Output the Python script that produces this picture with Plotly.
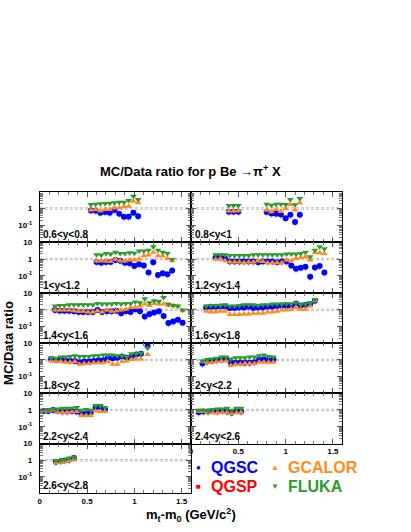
import plotly.graph_objects as go

# ---- data (MC/Data ratio vs mt-m0) ----
labels = ["0.6<y<0.8", "0.8<y<1", "1<y<1.2", "1.2<y<1.4", "1.4<y<1.6", "1.6<y<1.8",
          "1.8<y<2", "2<y<2.2", "2.2<y<2.4", "2.4<y<2.6", "2.6<y<2.8"]

x_06 = [0.54, 0.59, 0.64, 0.69, 0.74, 0.79, 0.84, 0.89, 0.94, 0.99, 1.04]
qgsc_06 = [0.76, 0.73, 0.56, 0.61, 0.56, 0.80, 0.49, 0.32, 0.32, 0.56, 0.35]
gcalor_06 = [0.80, 0.87, 0.73, 0.87, 0.87, 1.09, 1.09, 1.25, 1.37, 2.70, 2.16]
fluka_06 = [1.72, 1.80, 1.88, 1.97, 2.06, 2.16, 2.36, 2.36, 2.96, 5.31, 3.38]

x_08 = [0.40, 0.45, 0.50, 0.80, 0.85, 0.90, 0.95, 1.00, 1.05, 1.10, 1.15]
qgsc_08 = [0.64, 0.64, 0.64, 0.61, 0.51, 0.49, 0.44, 0.26, 0.42, 0.16, 0.42]
gcalor_08 = [0.70, 0.70, 0.73, 0.80, 0.64, 0.87, 0.67, 0.96, 1.72, 0.80, 2.16]
fluka_08 = [1.50, 1.50, 1.50, 1.80, 1.57, 1.80, 1.80, 1.72, 3.38, 1.64, 3.87]

x_10 = [0.60, 0.65, 0.70, 0.75, 0.80, 0.85, 0.90, 0.95, 1.00, 1.05, 1.10, 1.15, 1.20,
        1.25, 1.30, 1.35, 1.40]
qgsc_10 = [0.67, 0.61, 0.67, 0.67, 0.87, 0.80, 0.61, 0.56, 0.39, 0.49, 0.42, 0.16, 0.64,
           0.115, 0.144, 0.125, 0.21]
gcalor_10 = [0.76, 0.80, 0.76, 0.73, 0.96, 0.80, 0.76, 0.87, 0.87, 1.00, 1.57, 1.72, 2.58,
             1.57, 1.57, 1.09, 0.80]
fluka_10 = [1.80, 1.72, 2.16, 1.97, 2.58, 2.16, 2.16, 2.36, 2.25, 2.96, 2.96, 3.38, 5.31,
            3.38, 2.58, 2.16, 0.93]

x_12 = [0.26, 0.31, 0.36, 0.41, 0.46, 0.51, 0.56, 0.61, 0.66, 0.71, 0.76, 0.81, 0.86,
        0.91, 0.96, 1.01, 1.06, 1.11, 1.16, 1.21, 1.26, 1.31, 1.36, 1.41]
qgsc_12 = [1.25, 1.25, 1.09, 0.73, 0.73, 0.73, 0.73, 0.73, 0.73, 0.64, 0.73, 0.73, 0.73,
           0.64, 0.73, 0.73, 0.41, 0.27, 0.31, 0.35, 0.09, 0.32, 0.39, 0.16]
gcalor_12 = [0.96, 1.05, 0.80, 0.67, 0.67, 0.67, 0.61, 0.67, 0.67, 0.80, 0.73, 0.61, 0.61,
             0.61, 0.61, 0.87, 0.80, 1.09, 1.25, 1.37, 0.87, 2.36, 2.36, 2.16]
fluka_12 = [1.80, 1.80, 1.80, 1.64, 1.64, 1.64, 1.64, 1.64, 1.80, 1.80, 1.80, 1.80, 1.80,
            1.80, 1.80, 1.97, 1.97, 1.97, 2.16, 2.58, 1.37, 3.38, 5.31, 4.05]

x_14 = [0.16, 0.21, 0.26, 0.31, 0.36, 0.41, 0.46, 0.51, 0.56, 0.61, 0.66, 0.71, 0.76, 0.81,
        0.86, 0.91, 0.96, 1.01, 1.06, 1.11, 1.16, 1.21, 1.26, 1.31, 1.36, 1.41, 1.46, 1.51]
qgsc_14 = [0.96, 0.87, 0.87, 0.87, 0.80, 0.73, 0.73, 0.73, 0.73, 0.96, 0.73, 0.80, 0.80, 0.87,
           0.61, 0.80, 0.73, 1.05, 0.80, 0.39, 0.56, 0.67, 0.80, 0.42, 0.16, 0.20, 0.25, 0.17]
gcalor_14 = [0.96, 0.96, 0.96, 0.96, 0.87, 0.80, 0.80, 0.73, 0.73, 0.87, 0.73, 0.96, 0.80, 0.87,
             0.96, 1.05, 1.37, 1.37, 1.64, 2.16, 1.80, 2.36, 2.16, 2.16, 1.80, 1.80, 1.64, 0.87]
fluka_14 = [1.64, 1.80, 1.80, 1.97, 1.97, 1.97, 1.97, 1.97, 1.97, 2.36, 2.16, 2.16, 2.16, 2.36,
            2.16, 2.36, 2.36, 2.83, 2.58, 4.44, 2.58, 3.38, 3.10, 5.31, 2.16, 1.80, 1.64, 0.96]

x_16 = [0.16, 0.21, 0.26, 0.31, 0.36, 0.41, 0.46, 0.51, 0.56, 0.61, 0.66, 0.71, 0.76,
        0.81, 0.86, 0.91, 0.96, 1.01, 1.06, 1.11, 1.16, 1.21, 1.26, 1.31]
qgsc_16 = [1.37, 1.50, 1.50, 1.57, 1.57, 1.25, 1.25, 1.37, 1.37, 1.50, 1.25, 1.37, 1.37,
           1.50, 1.50, 1.64, 1.80, 1.64, 1.80, 2.36, 1.80, 1.97, 2.16, 3.38]
gcalor_16 = [0.80, 0.73, 0.73, 0.80, 0.80, 0.51, 0.51, 0.51, 0.56, 0.56, 0.61, 0.61, 0.61,
             0.73, 0.73, 0.80, 0.96, 0.96, 1.05, 1.37, 1.05, 1.05, 1.64, 3.38]
fluka_16 = [1.64, 1.80, 1.80, 1.80, 1.97, 1.64, 1.64, 1.80, 1.97, 1.97, 1.97, 1.80, 1.97,
            1.97, 2.16, 2.16, 2.16, 2.36, 2.16, 2.58, 1.97, 2.16, 2.58, 4.05]

x_18 = [0.12, 0.17, 0.22, 0.27, 0.32, 0.37, 0.42, 0.47, 0.52, 0.57, 0.62, 0.67, 0.72,
        0.77, 0.82, 0.87, 0.92, 0.97, 1.02, 1.07, 1.14]
qgsc_18 = [1.09, 1.00, 1.09, 0.96, 0.87, 0.87, 0.73, 0.80, 0.80, 0.87, 0.96, 0.96, 1.37,
           1.25, 1.37, 1.64, 1.37, 1.64, 2.16, 2.36, 6.97]
gcalor_18 = [0.87, 0.87, 0.80, 0.73, 0.73, 0.80, 0.56, 0.61, 0.61, 0.67, 0.67, 0.67, 0.80,
             0.56, 0.56, 0.80, 0.87, 1.05, 1.15, 1.15, 2.16]
fluka_18 = [1.37, 1.25, 1.50, 1.50, 1.64, 1.80, 1.64, 1.64, 1.64, 1.80, 1.80, 1.97, 1.97,
            1.97, 1.80, 1.80, 1.50, 2.36, 2.36, 2.58, 5.31]

x_20 = [0.12, 0.17, 0.22, 0.27, 0.32, 0.37, 0.42, 0.47, 0.52, 0.57, 0.62, 0.67, 0.72,
        0.77, 0.82, 0.87]
qgsc_20 = [0.61, 0.80, 0.87, 0.96, 1.05, 1.15, 0.67, 0.67, 0.67, 0.67, 0.67, 0.73, 1.05,
           1.15, 0.96, 1.05]
gcalor_20 = [0.80, 0.73, 0.73, 0.80, 0.87, 0.87, 0.46, 0.56, 0.56, 0.61, 0.61, 0.61, 0.73,
             0.73, 0.73, 0.73]
fluka_20 = [0.87, 1.05, 1.15, 1.25, 1.50, 1.50, 1.15, 1.37, 1.37, 1.37, 1.50, 1.50, 1.80,
            1.97, 1.64, 1.50]

x_22 = [0.04, 0.09, 0.14, 0.19, 0.24, 0.29, 0.34, 0.39, 0.44, 0.49, 0.54, 0.59, 0.64, 0.69]
qgsc_22 = [0.87, 0.87, 1.00, 0.87, 0.80, 0.80, 0.87, 0.80, 0.61, 0.61, 0.73, 1.37, 1.50, 1.05]
gcalor_22 = [0.87, 0.87, 0.96, 0.73, 0.73, 0.73, 0.80, 0.80, 0.46, 0.46, 0.46, 0.87, 0.80, 0.80]
fluka_22 = [0.96, 0.96, 1.05, 1.15, 1.25, 1.25, 1.25, 1.37, 0.96, 1.05, 0.96, 1.80, 1.80, 1.37]

x_24 = [0.08, 0.13, 0.18, 0.23, 0.28, 0.33, 0.38, 0.43, 0.48, 0.53]
qgsc_24 = [0.73, 0.80, 0.80, 0.87, 0.80, 0.87, 0.80, 0.67, 0.87, 0.80]
gcalor_24 = [0.80, 0.80, 0.73, 0.67, 0.67, 0.73, 0.73, 0.61, 0.67, 0.73]
fluka_24 = [0.96, 0.96, 0.87, 1.05, 1.15, 1.15, 1.25, 0.96, 1.25, 1.25]

x_26 = [0.17, 0.22, 0.26, 0.31, 0.36]
qgsc_26 = [0.80, 0.87, 0.96, 1.05, 1.37]
gcalor_26 = [0.73, 0.73, 0.80, 0.96, 1.15]
fluka_26 = [0.96, 0.96, 1.05, 1.37, 1.50]

panels = [
    (x_06, qgsc_06, gcalor_06, fluka_06),
    (x_08, qgsc_08, gcalor_08, fluka_08),
    (x_10, qgsc_10, gcalor_10, fluka_10),
    (x_12, qgsc_12, gcalor_12, fluka_12),
    (x_14, qgsc_14, gcalor_14, fluka_14),
    (x_16, qgsc_16, gcalor_16, fluka_16),
    (x_18, qgsc_18, gcalor_18, fluka_18),
    (x_20, qgsc_20, gcalor_20, fluka_20),
    (x_22, qgsc_22, gcalor_22, fluka_22),
    (x_24, qgsc_24, gcalor_24, fluka_24),
    (x_26, qgsc_26, gcalor_26, fluka_26),
]

BLUE = "#0000ff"
RED = "#ff0000"
ORANGE = "#ff8c1a"
GREEN = "#2e9a2e"
FONT = "Liberation Sans, Arial, sans-serif"

W, H = 411, 532
col_px = [(38, 190), (190, 342)]
row_px = [189, 240, 291, 342, 392, 443, 493]


def px(xp):
    return xp / W


def py(yp):
    return 1 - yp / H


minor_y = [a * 10 ** e for e in (-2, -1, 0) for a in range(2, 10)]

fig = go.Figure()
layout = {}
shapes = []
annotations = []

for k, (xs, qgsc, gcalor, fluka) in enumerate(panels):
    row, col = k // 2, k % 2
    n = k + 1
    xa = "x" if n == 1 else f"x{n}"
    ya = "y" if n == 1 else f"y{n}"

    # series: QGSC, GCALOR, FLUKA (QGSP hides under QGSC)
    fig.add_trace(go.Scatter(x=xs, y=qgsc, mode="markers", xaxis=xa, yaxis=ya,
                             marker=dict(symbol="circle", size=6, color=BLUE),
                             error_y=dict(type="percent", value=45, color="#b4b4ff",
                                          thickness=1, width=0),
                             showlegend=False))
    fig.add_trace(go.Scatter(x=xs, y=gcalor, mode="markers", xaxis=xa, yaxis=ya,
                             marker=dict(symbol="triangle-up", size=6, color=ORANGE),
                             error_y=dict(type="percent", value=20, color="#ffd2a8",
                                          thickness=1, width=0),
                             showlegend=False))
    fig.add_trace(go.Scatter(x=xs, y=fluka, mode="markers", xaxis=xa, yaxis=ya,
                             marker=dict(symbol="triangle-down", size=6, color=GREEN),
                             error_y=dict(type="percent", value=20, color="#b4dcb4",
                                          thickness=1, width=0),
                             showlegend=False))

    x0, x1 = col_px[col]
    ytop, ybot = row_px[row], row_px[row + 1]
    bottom_labels = k in (9, 10)
    ax_key = "xaxis" if n == 1 else f"xaxis{n}"
    ay_key = "yaxis" if n == 1 else f"yaxis{n}"
    layout[ax_key] = dict(
        domain=[px(x0), px(x1)], anchor=ya, range=[0, 1.6],
        showline=True, linecolor="black", linewidth=1, mirror="allticks",
        ticks="inside", ticklen=5, tickcolor="#555", tickwidth=1,
        tickvals=[0, 0.5, 1, 1.5], ticktext=["0", "0.5", "1", "1.5"],
        showticklabels=bottom_labels,
        tickfont=dict(family=FONT, size=8, color="black", weight="bold"),
        minor=dict(ticks="inside", ticklen=3, dtick=0.1, tickcolor="#777"),
        showgrid=False, zeroline=False, fixedrange=True,
    )
    layout[ay_key] = dict(
        domain=[py(ybot), py(ytop)], anchor=xa, type="log", range=[-2, 1],
        showline=True, linecolor="black", linewidth=1, mirror="allticks",
        ticks="inside", ticklen=5, tickcolor="#555", tickwidth=1,
        tickvals=[0.1, 1, 10],
        ticktext=["10<sup>-1</sup>", "1", " " if row == 0 else "10"],
        showticklabels=(col == 0), ticklabelstandoff=5,
        tickfont=dict(family=FONT, size=8, color="black", weight="bold"),
        minor=dict(ticks="inside", ticklen=3, tickvals=minor_y, tickcolor="#777"),
        showgrid=False, zeroline=False, fixedrange=True,
    )

    for yv in (0.9, 1.1):
        shapes.append(dict(type="line", xref=f"{xa} domain", yref=ya, x0=0, x1=1,
                           y0=yv, y1=yv, line=dict(color="#aaa", width=0.8, dash="3px,2px"),
                           layer="below"))

    annotations.append(dict(text=f"<b>{labels[k]}</b>", xref=f"{xa} domain", yref=f"{ya} domain",
                            x=0.01, y=0.0, xanchor="left", yanchor="bottom", showarrow=False,
                            font=dict(family=FONT, size=10, color="black")))

# titles
annotations.append(dict(text="<b>MC/Data ratio for p Be \u2192\u03c0<sup>+</sup> X</b>",
                        xref="paper", yref="paper", x=px(189.5), y=py(168),
                        xanchor="center", yanchor="middle", showarrow=False,
                        font=dict(family=FONT, size=13, color="black")))
annotations.append(dict(text="<b>m<sub>t</sub>-m<sub>0</sub> (GeV/c<sup>2</sup>)</b>",
                        xref="paper", yref="paper", x=px(190), y=py(515),
                        xanchor="center", yanchor="middle", showarrow=False,
                        font=dict(family=FONT, size=13, color="black")))
annotations.append(dict(text="<b>MC/Data ratio</b>", textangle=-90,
                        xref="paper", yref="paper", x=px(7), y=py(341.5),
                        xanchor="center", yanchor="middle", showarrow=False,
                        font=dict(family=FONT, size=13, color="black")))

# legend
legend_items = [("\u25cf", "QGSC", BLUE, 197, 208, 467),
                ("\u25a0", "QGSP", RED, 197, 208, 486),
                ("\u25b2", "GCALOR", ORANGE, 274, 285, 467),
                ("\u25bc", "FLUKA", GREEN, 274, 285, 486)]
for sym, name, color, sx, tx, ty in legend_items:
    annotations.append(dict(text=sym, xref="paper", yref="paper", x=px(sx), y=py(ty),
                            xanchor="center", yanchor="middle", showarrow=False,
                            font=dict(family=FONT, size=8, color=color)))
    annotations.append(dict(text=f"<b>{name}</b>", xref="paper", yref="paper", x=px(tx),
                            y=py(ty), xanchor="left", yanchor="middle", showarrow=False,
                            font=dict(family=FONT, size=16, color=color)))

fig.update_layout(
    width=W, height=H,
    margin=dict(l=0, r=0, t=0, b=0),
    paper_bgcolor="white", plot_bgcolor="white",
    showlegend=False,
    shapes=shapes, annotations=annotations,
    **layout,
)

# drop the default 8px page margin so the figure sits at the window's corner
fig.write_html("out.html", config={"displayModeBar": False},
               post_script="document.body.style.margin = '0px';")
